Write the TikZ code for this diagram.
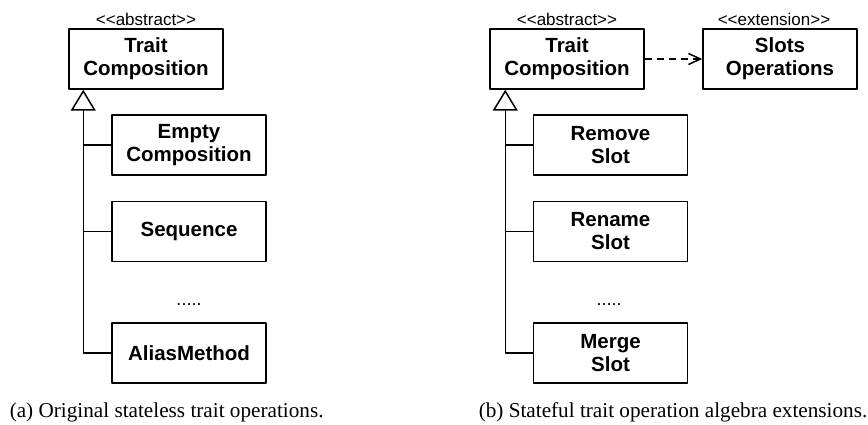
\documentclass[tikz,border=0pt]{standalone}
\usepackage{fontspec}
\setmainfont{Liberation Serif}
\setsansfont{Liberation Sans}[Ligatures=TeXOff]
\usetikzlibrary{arrows.meta,positioning,calc}
\begin{document}
\begin{tikzpicture}[x=1pt,y=-1pt,line join=round,line width=1.5pt,
	cls/.style={draw,rectangle,minimum width=154pt,minimum height=60pt,inner sep=0pt,align=center,font=\fontsize{20.5}{23}\selectfont\sffamily\bfseries},
	stereo/.style={anchor=base,inner sep=0pt,font=\fontsize{17}{20}\selectfont\sffamily},
	etc/.style={anchor=base,inner sep=0pt,font=\fontsize{18}{20}\selectfont\sffamily},
	capt/.style={anchor=base west,inner sep=0pt,font=\fontsize{21.2}{24}\selectfont},
	inh/.style={-{Triangle[open,length=21pt,width=25pt,fill=white]}},
	dep/.style={dash pattern=on 7pt off 5pt,-{Straight Barb[length=12pt,width=11pt]}}]
	\useasboundingbox (0,0) rectangle (868,425);
	% (a) stateless operations
	\node[cls] (tcA) at (146,59) {Trait\\Composition};
	\node[stereo] (absA) at ([yshift=3pt]tcA.north) {<<abstract>>};
	\node[cls] (emptyA) at (189,145) {Empty\\Composition};
	\node[cls] (seqA) at (189,231.5) {Sequence};
	\node[etc] (dotsA) at (189,305.5) {.....};
	\node[cls] (aliasA) at (189,353) {AliasMethod};
	\coordinate (tipA) at ($(tcA.south west)+(15,0)$);
	\draw[inh] (aliasA.west) -| (tipA);
	\foreach \n in {emptyA,seqA}
	\draw (\n.west) -- (\n.west -| tipA);
	% (b) stateful operations
	\node[cls] (tcB) at (567,59) {Trait\\Composition};
	\node[stereo] (absB) at ([yshift=3pt]tcB.north) {<<abstract>>};
	\node[cls] (slots) at (780,59) {Slots\\Operations};
	\node[stereo] (extB) at ([xshift=-6pt,yshift=3pt]slots.north) {<<extension>>};
	\draw[dep] (tcB) -- (slots);
	\node[cls] (removeB) at (610.5,145) {Remove\\Slot};
	\node[cls] (renameB) at (610.5,231.5) {Rename\\Slot};
	\node[etc] (dotsB) at (609,305.5) {.....};
	\node[cls] (mergeB) at (610.5,353) {Merge\\Slot};
	\coordinate (tipB) at ($(tcB.south west)+(16,0)$);
	\draw[inh] (mergeB.west) -| (tipB);
	\foreach \n in {removeB,renameB}
	\draw (\n.west) -- (\n.west -| tipB);
	% captions
	\node[capt] (captA) at (9,417) {(a) Original stateless trait operations.};
	\node[capt] (captB) at (478,417) {(b) Stateful trait operation algebra extensions.};
\end{tikzpicture}
\end{document}
